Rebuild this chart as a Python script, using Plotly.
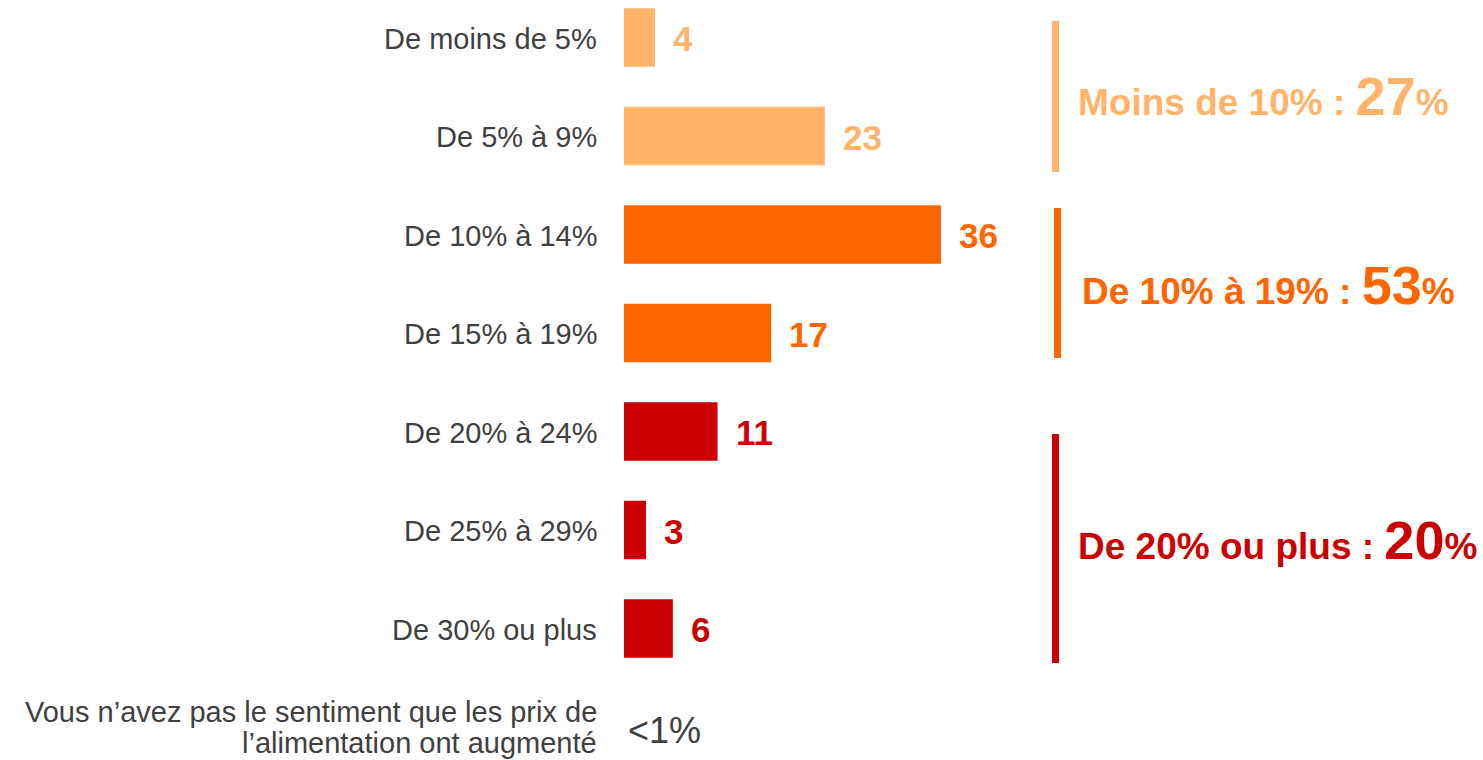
import plotly.graph_objects as go

# ---- data ----
categories = [
    "De moins de 5%",
    "De 5% à 9%",
    "De 10% à 14%",
    "De 15% à 19%",
    "De 20% à 24%",
    "De 25% à 29%",
    "De 30% ou plus",
]
last_category_lines = [
    "Vous n’avez pas le sentiment que les prix de",
    "l’alimentation ont augmenté",
]
values = [4, 23, 36, 17, 11, 3, 6]
last_label = "<1%"
group_names = ["Moins de 10% : ", "De 10% à 19% : ", "De 20% ou plus : "]
group_totals = [27, 53, 20]
group_members = [[0, 1], [2, 3], [4, 5, 6]]

# ---- styles ----
LIGHT = "#FFB36B"
ORANGE = "#FF6600"
RED = "#CC0000"
GREY = "#404040"
group_colors = [LIGHT, ORANGE, RED]
bar_colors = []
for gi, members in enumerate(group_members):
    for _ in members:
        bar_colors.append(group_colors[gi])

W, H = 1483, 760
PLOT_LEFT = 624
FONT = "Liberation Sans, Arial, sans-serif"
CAT_SIZE = 29

ypos = list(range(len(values)))

fig = go.Figure()
fig.add_trace(go.Bar(
    x=values,
    y=ypos,
    orientation="h",
    marker=dict(color=bar_colors, line=dict(width=0)),
    hoverinfo="skip",
    showlegend=False,
))

annotations = []
# category labels
for i, cat in enumerate(categories):
    annotations.append(dict(
        x=0, xref="paper", y=i, yref="y", text=cat,
        xanchor="right", yanchor="middle", align="right", xshift=-25, yshift=-1,
        showarrow=False, font=dict(family=FONT, size=CAT_SIZE, color=GREY),
    ))
last_row = len(values)
for li, (line, shift) in enumerate(zip(last_category_lines, [15, -16])):
    annotations.append(dict(
        x=0, xref="paper", y=last_row, yref="y", text=line,
        xanchor="right", yanchor="middle", align="right", xshift=-25, yshift=shift,
        showarrow=False, font=dict(family=FONT, size=CAT_SIZE, color=GREY),
    ))
# value labels
for i, v in enumerate(values):
    annotations.append(dict(
        x=v, xref="x", y=i, yref="y", text=f"<b>{v}</b>",
        xanchor="left", yanchor="middle", xshift=16, yshift=-1,
        showarrow=False, font=dict(family=FONT, size=35, color=bar_colors[i]),
    ))
# last "<1%"
annotations.append(dict(
    x=0, xref="paper", y=last_row, yref="y", text=last_label,
    xanchor="left", yanchor="middle", xshift=2, yshift=-3,
    showarrow=False, font=dict(family=FONT, size=36, color=GREY),
))

def px_x(px):
    return (px - PLOT_LEFT) / (W - PLOT_LEFT)

def px_y(py):
    return 1 - py / H

# group brackets
line_specs = [(1055.5, 21, 172), (1057.5, 208, 358), (1055.5, 434, 663)]
text_specs = [(1076, 96), (1080, 285), (1076, 540)]
shapes = []
for gi in range(3):
    lx, y0, y1 = line_specs[gi]
    shapes.append(dict(
        type="line", xref="paper", yref="paper",
        x0=px_x(lx), x1=px_x(lx), y0=px_y(y0), y1=px_y(y1),
        line=dict(color=group_colors[gi], width=7),
    ))
    tx, ty = text_specs[gi]
    annotations.append(dict(
        x=px_x(tx), xref="paper", y=px_y(ty), yref="paper",
        text=(f"<b>{group_names[gi]}<span style='font-size:54px'>{group_totals[gi]}</span>%</b>"),
        xanchor="left", yanchor="middle", showarrow=False,
        font=dict(family=FONT, size=37, color=group_colors[gi]),
    ))

# axis ranges: zero at ~619px, 8.94 px per unit; rows 98.5 px apart
px_per_unit = 8.94
x0 = (PLOT_LEFT - 619.2) / px_per_unit
x1 = x0 + (W - PLOT_LEFT) / px_per_unit
row = 98.5
first = 37.5
y_top = -first / row
y_bot = (H - first) / row

fig.update_layout(
    width=W, height=H,
    margin=dict(l=PLOT_LEFT, r=0, t=0, b=0),
    paper_bgcolor="white", plot_bgcolor="white",
    bargap=0.406,
    xaxis=dict(range=[x0, x1], visible=False, fixedrange=True),
    yaxis=dict(range=[y_bot, y_top], visible=False, fixedrange=True),
    annotations=annotations,
    shapes=shapes,
    font=dict(family=FONT),
)

fig.write_html(
    "out.html",
    config={"displayModeBar": False},
    post_script="document.body.style.margin='0';document.body.style.overflow='hidden';",
)
